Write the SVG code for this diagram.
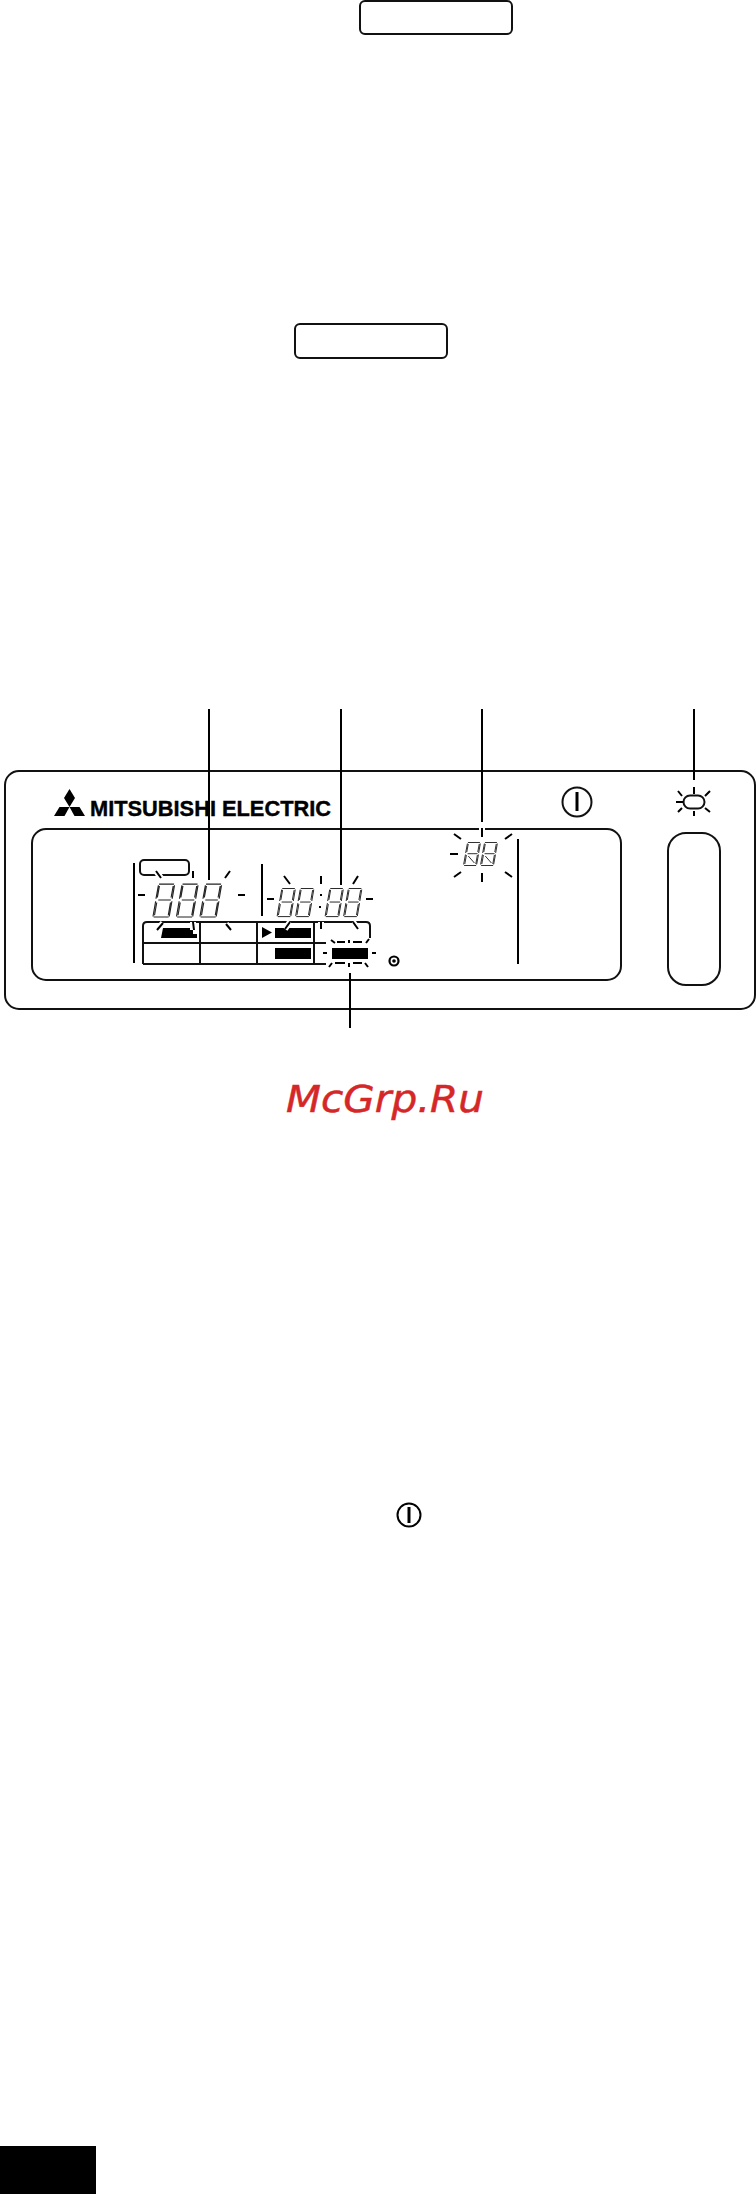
<svg xmlns="http://www.w3.org/2000/svg" width="756" height="2194" viewBox="0 0 756 2194">
<style>
.o{fill:none;stroke:#111;stroke-width:2}
.t{fill:none;stroke:#000;stroke-width:2}
.l{fill:none;stroke:#000;stroke-width:2}
.h{fill:none;stroke:#fff;stroke-width:6}
.s{fill:none;stroke:#222;stroke-width:.9}
.b{fill:#000}
</style>
<defs>
<g id="d8">
<path class="s" d="M3 0.5H15M2.6 1.5L2 12.5M3.5 2L3 11.5M15.5 1.5L15 12.5M14.5 2L14 11.5M4 13.5H14M2 14.5L1.4 27M3 15.5L2.5 26M15 14.5L14.4 27M14 15.5L13.5 26M2 27.5H14" transform="skewX(-7) translate(3.5,0)"/>
</g>
<g id="d8n">
<path class="s" d="M3 0.5H15M2.6 1.5L2 11M3.5 2L3 10M15.5 1.5L15 11M14.5 2L14 10M4 11.7H14M2 12.5L1.4 22.5M3 13L2.5 22M15 12.5L14.4 22.5M14 13L13.5 22M2 23.5H14M5 14L12 21" transform="skewX(-7) translate(3,0)"/>
</g>
</defs>
<g id="box-top"><rect class="o" x="360" y="1" width="152" height="33" rx="5"/></g>
<g id="box-mid"><rect class="o" x="295" y="324" width="152" height="34" rx="5"/></g>
<g id="panel">
<rect class="o" x="5" y="771" width="750" height="238" rx="14"/>
<rect class="o" x="32" y="829" width="589" height="151" rx="14"/>
<rect class="o" x="668" y="833" width="52" height="152" rx="18"/>
<g id="logo">
<polygon class="b" points="69.5,789 75,798 69.5,807 64,798"/>
<polygon class="b" points="54,816 59.5,807 69.5,807 64.5,816"/>
<polygon class="b" points="85,816 79.5,807 69.5,807 74.5,816"/>
<text x="90" y="816" font-family="'Liberation Sans',Arial,sans-serif" font-weight="bold" font-size="22.5" textLength="241" lengthAdjust="spacingAndGlyphs" fill="#000" stroke="#000" stroke-width=".4">MITSUBISHI ELECTRIC</text>
</g>
<g id="power"><circle class="o" cx="577" cy="802" r="14.5"/><path d="M577 792V811" stroke="#000" stroke-width="3"/></g>
</g>
<g id="display">
<path class="l" d="M134 863V963M262 864V916M518 839V964"/>
<rect class="o" x="140" y="860" width="49" height="15" rx="4"/>
<path class="o" d="M143 964V926Q143 922 147 922H366Q370 922 370 926V940M143 964H326M143 943H326M200 922V964M257 922V964M314 922V964"/>
<polygon class="b" points="161,938 163,928 193,928 193,934 197,934 197,938"/>
<polygon class="b" points="262,927 272,932.5 262,938"/>
<rect class="b" x="275" y="928" width="36" height="10"/>
<rect class="b" x="275" y="948" width="36" height="11"/>
<rect class="b" x="332" y="948" width="36" height="11"/>
<circle cx="394" cy="961" r="4.5" fill="none" stroke="#000" stroke-width="2.2"/><circle class="b" cx="394" cy="961" r="1.8"/>
</g>
<g id="halos">
<path class="h" d="M156 871L161 878M193 871V878M163 923L157 930M193 922V930M226 924L231 930M290 922L285 929M321 922V929M353 922L358 929M340 942H365M336 964H365M482 826V837M370 938V945"/>
</g>
<g id="digits">
<use href="#d8" transform="translate(151,883.500) scale(1.25,1.22)"/><use href="#d8" transform="translate(174.500,883.500) scale(1.25,1.22)"/><use href="#d8" transform="translate(198,883.500) scale(1.25,1.22)"/>
<use href="#d8" transform="translate(275.500,888) scale(1.05,1.04)"/><use href="#d8" transform="translate(294,888) scale(1.05,1.04)"/>
<use href="#d8" transform="translate(323.500,888) scale(1.05,1.04)"/><use href="#d8" transform="translate(342,888) scale(1.05,1.04)"/>
<rect class="b" x="320" y="894" width="2" height="2"/><rect class="b" x="319" y="906" width="2" height="2"/>
<use href="#d8n" x="462" y="842"/><use href="#d8n" x="479" y="842"/>
</g>
<g id="ticks">
<path class="t" d="M156 871L161 878M193 871V878M230 871L225 878M138 895H145M238 895H245M163 923L157 930M193 922L194 930M226 924L231 930"/>
<path class="t" d="M284 876L290 884M321 876V884M358 876L353 884M267 899H274M366 899H373M290 922L285 929M321 922V929M353 922L358 929"/>
<path class="t" d="M331 940L335 943M337 942H345M349 940V943M353 942H362M366 943L369 939M323 953H327M372 953H376M329 967L332 963M335 963H345M349 963V967M353 963H362M365 963L368 967"/>
<path class="t" d="M454 834L461 839M482 828V837M512 834L505 839M450 854H458M454 877L461 872M482 873V882M512 877L505 872"/>
</g>
<g id="lamp">
<rect class="o" x="683.500" y="795.500" width="21" height="13" rx="6.500"/>
<path class="t" d="M694 787V794M694 811V816M676 802H683M678 791L682 796M710 791L705 796M678 812L682 808M710 812L705 808"/>
</g>
<g id="connectors">
<path class="t" d="M209 709V880M341 709V885M482 709V822M694 709V780M350 973V1028"/>
</g>
<text id="watermark" x="286" y="1112" font-family="'DejaVu Sans',sans-serif" font-style="oblique" font-size="38" textLength="198" lengthAdjust="spacingAndGlyphs" fill="#d62728" stroke="#d62728" stroke-width=".5">McGrp.Ru</text>
<g id="power-small"><circle cx="409" cy="1515" r="11.500" fill="none" stroke="#000" stroke-width="2"/><path d="M409 1507V1523" stroke="#000" stroke-width="3"/></g>
<rect id="page-tab" x="0" y="2146" width="96" height="48" fill="#000"/>
</svg>
